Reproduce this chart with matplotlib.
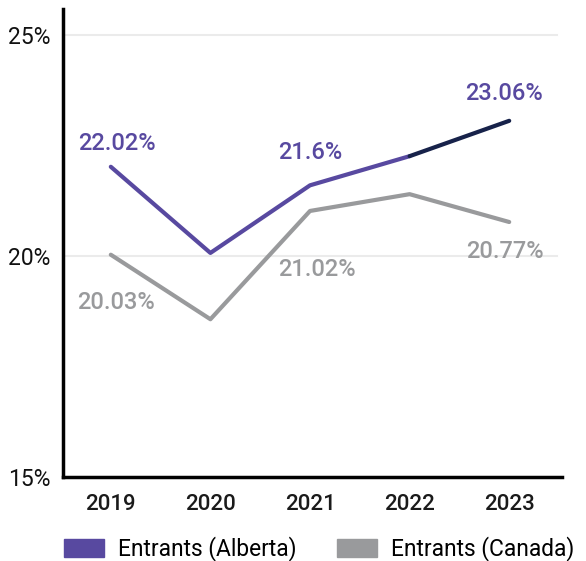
import matplotlib
matplotlib.use("Agg")
import matplotlib.pyplot as plt
from matplotlib.patches import Patch

years = ["2019", "2020", "2021", "2022", "2023"]
alberta = [22.02, 20.07, 21.6, 22.26, 23.06]
canada = [20.03, 18.57, 21.02, 21.4, 20.77]
alberta_labels = {0: "22.02%", 2: "21.6%", 4: "23.06%"}
canada_labels = {0: "20.03%", 2: "21.02%", 4: "20.77%"}
y_ticks = [15, 20, 25]

# label offsets in pixels (dx, dy) from each point
alberta_offsets = {0: (6, 23), 2: (0, 33), 4: (-5, 27)}
canada_offsets = {0: (5, -48), 2: (7, -59), 4: (-4, -29)}

PURPLE = "#5849a0"
NAVY = "#17224a"
GRAY = "#999a9c"
PX = 0.72  # points per pixel at 100 dpi

plt.rcParams["font.family"] = ["Roboto", "DejaVu Sans"]

fig = plt.figure(figsize=(5.86, 5.61), dpi=100)
ax = fig.add_axes([63 / 586, 84 / 561, (562 - 63) / 586, (477 - 9) / 561])

x = list(range(len(years)))

for yv in y_ticks[1:]:
    ax.axhline(yv, color="#ebebeb", lw=1.5, zorder=0, xmax=0.99)

ax.plot(x, canada, color=GRAY, lw=3.0, solid_capstyle="round", zorder=2)
ax.plot(x[:4], alberta[:4], color=PURPLE, lw=3.0, solid_capstyle="round", zorder=3)
ax.plot(x[3:], alberta[3:], color=NAVY, lw=3.0, solid_capstyle="round", zorder=3)

for i, txt in alberta_labels.items():
    dx, dy = alberta_offsets[i]
    ax.annotate(txt, (x[i], alberta[i]), xytext=(dx * PX, dy * PX), textcoords="offset points",
                ha="center", va="center", color=PURPLE, fontsize=17, fontweight="medium")
for i, txt in canada_labels.items():
    dx, dy = canada_offsets[i]
    ax.annotate(txt, (x[i], canada[i]), xytext=(dx * PX, dy * PX), textcoords="offset points",
                ha="center", va="center", color=GRAY, fontsize=17, fontweight="medium")

ax.set_xlim(-0.48, 4.53)
ax.set_ylim(15, 25.59)
ax.set_xticks(x)
ax.set_xticklabels(years, fontsize=16, fontweight="medium", color="#1a1a1a")
ax.set_yticks(y_ticks)
ax.set_yticklabels([f"{v}%" for v in y_ticks], fontsize=16.5, color="#111111")
ax.tick_params(axis="both", length=0)
ax.tick_params(axis="x", pad=12)
ax.tick_params(axis="y", pad=9)

for s in ["top", "right"]:
    ax.spines[s].set_visible(False)
ax.spines["left"].set_linewidth(2.5)
ax.spines["bottom"].set_linewidth(2.5)

handles = [Patch(color=PURPLE, label="Entrants (Alberta)"),
           Patch(color=GRAY, label="Entrants (Canada)")]
fig.legend(handles=handles, loc="center left", bbox_to_anchor=(64 / 586, 1 - 549 / 561),
           ncol=2, frameon=False, fontsize=16.4, handlelength=1.75, handleheight=0.78,
           columnspacing=1.8, handletextpad=0.62, borderpad=0, borderaxespad=0)

fig.savefig("out.png", dpi=100)
